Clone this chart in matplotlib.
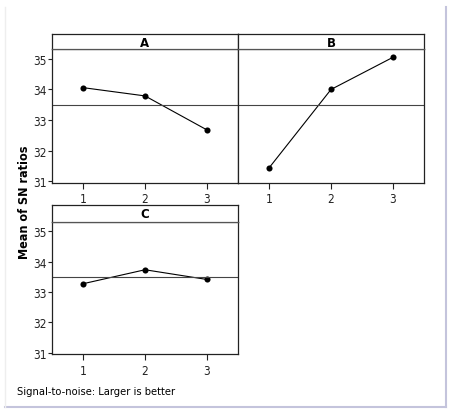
import matplotlib
matplotlib.use("Agg")
import matplotlib.pyplot as plt
from matplotlib.lines import Line2D

levels = [1, 2, 3]
factors = ["A", "B", "C"]
sn_A = [34.06, 33.79, 32.68]
sn_B = [31.44, 34.00, 35.05]
sn_C = [33.27, 33.73, 33.41]
yticks = [31, 32, 33, 34, 35]

all_vals = sn_A + sn_B + sn_C
grand_mean = sum(all_vals) / len(all_vals)

W, H = 454, 410
fig = plt.figure(figsize=(W / 100, H / 100), dpi=100)
FONT = ['DejaVu Sans']
STRETCH = 'condensed'

def px_axes(x0, y0, x1, y1):
    return fig.add_axes([x0 / W, 1 - y1 / H, (x1 - x0) / W, (y1 - y0) / H])

panels = [
    ("A", sn_A, (52, 34.5, 238, 50.3, 183.7), True),
    ("B", sn_B, (238, 34.5, 424, 50.3, 183.7), False),
    ("C", sn_C, (52, 205.5, 238, 222.7, 355), True),
]

for name, vals, (x0, yt, x1, yh, yb), show_y in panels:
    ax = px_axes(x0, yh, x1, yb)
    ax.plot(levels, vals, color='black', lw=0.8, marker='o', ms=4.4,
            markeredgewidth=0)
    ax.axhline(grand_mean, color='#444444', lw=0.8)
    ax.set_xlim(0.5, 3.5)
    ax.set_ylim(30.96, 35.31)
    ax.set_xticks(levels)
    ax.set_xticklabels([str(l) for l in levels], fontfamily=FONT,
                       fontstretch=STRETCH, fontsize=8.5)
    ax.set_yticks(yticks)
    if show_y:
        ax.set_yticklabels([str(t) for t in yticks], fontfamily=FONT,
                           fontstretch=STRETCH, fontsize=8.5)
        ax.tick_params(axis='y', length=3, width=0.8, pad=1, colors='#222222')
    else:
        ax.tick_params(axis='y', length=0, labelleft=False)
    ax.tick_params(axis='x', length=4, width=0.8, pad=3, colors='#222222')
    for s in ax.spines.values():
        s.set_color('#222222')
        s.set_linewidth(0.9)
    ax.spines['top'].set_color('#555555')
    hx = px_axes(x0, yt, x1, yh)
    hx.set_xticks([])
    hx.set_yticks([])
    for s in hx.spines.values():
        s.set_color('#222222')
        s.set_linewidth(0.9)
    hx.spines['bottom'].set_color('#555555')
    hx.text(0.5, 0.45, name, ha='center', va='center', fontsize=8.5,
            fontweight='bold', transform=hx.transAxes)

fig.text(25 / W, 1 - 202 / H, "Mean of SN ratios", rotation=90, ha='center',
         va='center', fontsize=9, fontweight='bold', fontstretch=STRETCH)
fig.text(17 / W, 1 - 392 / H, "Signal-to-noise: Larger is better",
         ha='left', va='center', fontsize=8, fontfamily=FONT,
         fontstretch=STRETCH)

fig.add_artist(Line2D([446 / W, 446 / W], [1 - 8 / H, 1 - 408 / H],
                      transform=fig.transFigure, color='#c4c4dc', lw=1.5))
fig.add_artist(Line2D([5 / W, 446 / W], [1 - 408 / H, 1 - 408 / H],
                      transform=fig.transFigure, color='#c4c4dc', lw=1.5))
fig.add_artist(Line2D([5 / W, 5 / W], [1 - 8 / H, 1 - 408 / H],
                      transform=fig.transFigure, color='#eeeeee', lw=1))

fig.savefig("out.png", dpi=100)
